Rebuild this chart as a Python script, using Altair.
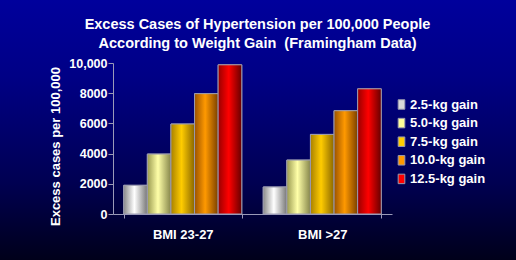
import altair as alt
import pandas as pd

groups = ["BMI 23-27", "BMI >27"]
series = ["2.5-kg gain", "5.0-kg gain", "7.5-kg gain", "10.0-kg gain", "12.5-kg gain"]
values_bmi_23_27 = [1900, 3970, 5960, 7970, 9880]
values_bmi_over_27 = [1790, 3570, 5270, 6840, 8290]
solid_colors = ["#d9d9d9", "#ffff99", "#ffcc00", "#ff9900", "#ff0000"]
gradient_stops = [
    ["#8a8a8a", "#ffffff", "#777777"],
    ["#9a9a50", "#ffffa8", "#85854a"],
    ["#a88000", "#ffcc00", "#8a6600"],
    ["#9a5200", "#ff9900", "#7a3f00"],
    ["#990000", "#ff0000", "#660000"],
]

rows = []
for g, vals in zip(groups, [values_bmi_23_27, values_bmi_over_27]):
    for s, v in zip(series, vals):
        rows.append({"group": g, "series": s, "value": v})
df = pd.DataFrame(rows)

FONT = "Liberation Sans"
W, H = 279, 151
PAD_L, PAD_T = 113, 63
TOTAL_W, TOTAL_H = 516, 260

x_enc = alt.X(
    "group:N",
    sort=groups,
    title=None,
    scale=alt.Scale(paddingInner=0.154, paddingOuter=0.077),
    axis=alt.Axis(
        zindex=1,
        labelAngle=0,
        tickBand="extent",
        tickSize=4,
        labelPadding=10,
        labelFontSize=13,
        labelFont=FONT,
        labelFontWeight="bold",
        labelColor="white",
        domainColor="#9a9ab8",
        tickColor="#9a9ab8",
    ),
)
xoff_enc = alt.XOffset("series:N", sort=series, scale=alt.Scale(paddingInner=0, paddingOuter=0))
y_enc = alt.Y(
    "value:Q",
    scale=alt.Scale(domain=[0, 10000], nice=False),
    axis=alt.Axis(
        zindex=1,
        title="Excess cases per 100,000",
        values=[0, 2000, 4000, 6000, 8000, 10000],
        labelExpr="datum.value == 10000 ? '10,000' : '' + datum.value",
        grid=False,
        tickSize=5,
        labelPadding=1,
        labelFontSize=12.5,
        labelFont=FONT,
        labelFontWeight="bold",
        labelColor="white",
        domainColor="#9a9ab8",
        tickColor="#9a9ab8",
        titleFont=FONT,
        titleFontSize=13,
        titleFontWeight="bold",
        titleColor="white",
        titleAngle=270,
        titleAlign="center",
        titleBaseline="middle",
        titleX=-58,
        titleY=83,
    ),
)

bg = alt.Chart(alt.Data(values=[{}])).mark_rect(
    color=alt.LinearGradient(
        gradient="linear", x1=0, x2=0, y1=0, y2=1,
        stops=[
            alt.GradientStop(offset=0, color="#00009c"),
            alt.GradientStop(offset=0.3, color="#000085"),
            alt.GradientStop(offset=0.7, color="#000052"),
            alt.GradientStop(offset=1, color="#00001a"),
        ],
    )
).encode(
    x=alt.value(-PAD_L), x2=alt.value(TOTAL_W - PAD_L),
    y=alt.value(-PAD_T), y2=alt.value(TOTAL_H - PAD_T),
)

base = alt.Chart(df).mark_bar(stroke="#9a9ab0", strokeWidth=1).encode(
    x=x_enc,
    xOffset=xoff_enc,
    y=y_enc,
    color=alt.Color(
        "series:N",
        sort=series,
        scale=alt.Scale(domain=series, range=solid_colors),
        legend=alt.Legend(
            title=None,
            orient="none",
            legendX=282,
            legendY=35,
            symbolType="M-0.7,-1L0.7,-1L0.7,1L-0.7,1Z",
            symbolSize=90,
            symbolStrokeColor="#9a9ab0",
            symbolStrokeWidth=1,
            labelFont=FONT,
            labelFontSize=13,
            labelFontWeight="bold",
            labelColor="white",
            labelOffset=2,
            rowPadding=3.6,
            padding=0,
        ),
    ),
)

layers = [bg, base]
for s, st in zip(series, gradient_stops):
    layers.append(
        alt.Chart(df).transform_filter(alt.datum.series == s).mark_bar(
            stroke="#9a9ab0", strokeWidth=1,
            color=alt.LinearGradient(
                gradient="linear", x1=0, x2=1, y1=0, y2=0,
                stops=[
                    alt.GradientStop(offset=0, color=st[0]),
                    alt.GradientStop(offset=0.45, color=st[1]),
                    alt.GradientStop(offset=1, color=st[2]),
                ],
            ),
        ).encode(x=x_enc, xOffset=xoff_enc, y=y_enc)
    )

chart = alt.layer(*layers).properties(
    width=W,
    height=H,
    autosize=alt.AutoSizeParams(type="none"),
    padding={"left": PAD_L, "top": PAD_T, "right": TOTAL_W - PAD_L - W, "bottom": TOTAL_H - PAD_T - H},
    background="#00001a",
    title=alt.TitleParams(
        text=["Excess Cases of Hypertension per 100,000 People",
              "According to Weight Gain \u00a0(Framingham Data)"],
        font=FONT,
        fontSize=14.5,
        fontWeight="bold",
        color="white",
        lineHeight=18.5,
        anchor="middle",
        frame="group",
        dx=5,
        offset=12 - PAD_T,
        zindex=1,
    ),
).configure_view(stroke=None)

chart.save("out.html", embed_options={"renderer": "svg", "actions": False})
